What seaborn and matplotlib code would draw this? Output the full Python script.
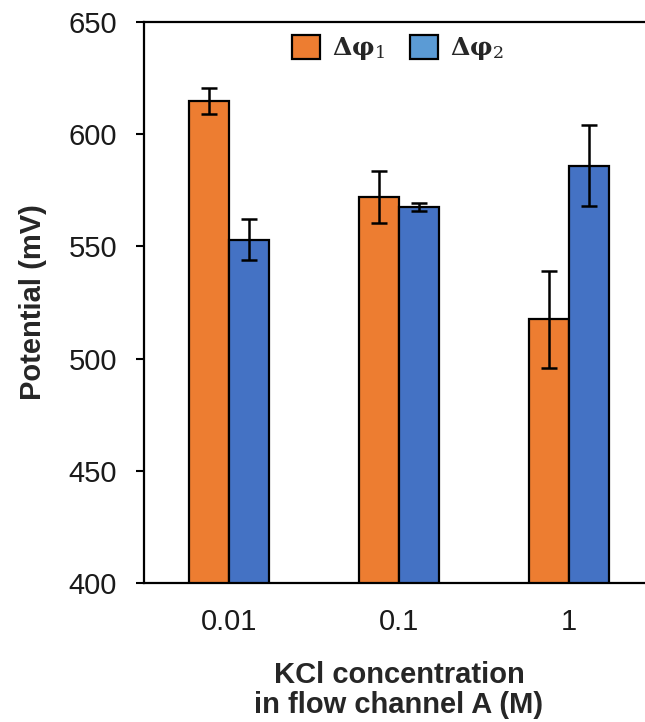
import pandas as pd
import matplotlib
matplotlib.use("Agg")
import matplotlib.pyplot as plt
from matplotlib.patches import Patch
import seaborn as sns

# ---- data ----
conc = ["0.01", "0.1", "1"]
dphi1 = [615, 572, 517.5]
dphi1_err = [5.8, 11.5, 21.5]
dphi2 = [553, 567.5, 586]
dphi2_err = [9.2, 1.7, 18]
series = ["dphi1", "dphi2"]

orange = "#ED7D31"
blue = "#4472C4"
legend_blue = "#5B9BD5"

sns.set_style("ticks")
plt.rcParams["font.family"] = ["Liberation Sans", "DejaVu Sans"]
plt.rcParams["mathtext.fontset"] = "dejavuserif"

df = pd.DataFrame({
    "conc": conc * 2,
    "value": dphi1 + dphi2,
    "err": dphi1_err + dphi2_err,
    "series": [series[0]] * 3 + [series[1]] * 3,
})

fig = plt.figure(figsize=(6.45, 7.22), dpi=100)
ax = fig.add_axes([0.2233, 0.1925, 0.7907, 0.777])

sns.barplot(data=df, x="conc", y="value", hue="series", order=conc,
            hue_order=series, palette=[orange, blue], saturation=1,
            errorbar=None, width=0.47, edgecolor="black", linewidth=1.6,
            legend=False, ax=ax)

# error bars at the bar centres
for bars, s in zip(ax.containers, series):
    sub = df[df["series"] == s].set_index("conc").loc[conc]
    xs = [b.get_x() + b.get_width() / 2 for b in bars]
    ax.errorbar(xs, sub["value"], yerr=sub["err"], fmt="none",
                ecolor="black", elinewidth=1.8, capsize=6, capthick=1.8)

ax.set_ylim(400, 650)
ax.set_xlim(-0.5, 2.5)
ax.set_yticks([400, 450, 500, 550, 600, 650])

ax.set_ylabel("Potential (mV)", fontsize=21, fontweight="bold", labelpad=15)
ax.set_xlabel("KCl concentration\nin flow channel A (M)", fontsize=21,
              fontweight="bold", labelpad=18, linespacing=1.1)

ax.tick_params(axis="y", direction="out", length=6, width=1.5,
               labelsize=21, pad=13.5, colors="black")
ax.tick_params(axis="x", length=0, labelsize=21, pad=18)
for lab in ax.get_yticklabels() + ax.get_xticklabels():
    lab.set_color("#1a1a1a")

for side in ["left", "top", "bottom"]:
    ax.spines[side].set_linewidth(1.6)
    ax.spines[side].set_color("black")
ax.spines["right"].set_visible(False)

handles = [Patch(facecolor=orange, edgecolor="black", linewidth=1.6),
           Patch(facecolor=legend_blue, edgecolor="black", linewidth=1.6)]
labels = [r"$\mathbf{\Delta\varphi}_{1}$", r"$\mathbf{\Delta\varphi}_{2}$"]
ax.legend(handles, labels, loc="upper center", bbox_to_anchor=(0.497, 1.0),
          ncol=2, frameon=False, fontsize=18, handlelength=1.12,
          handleheight=1.12, handletextpad=0.48, columnspacing=1.0,
          borderaxespad=0.1)

plt.savefig("out.png", dpi=100)
